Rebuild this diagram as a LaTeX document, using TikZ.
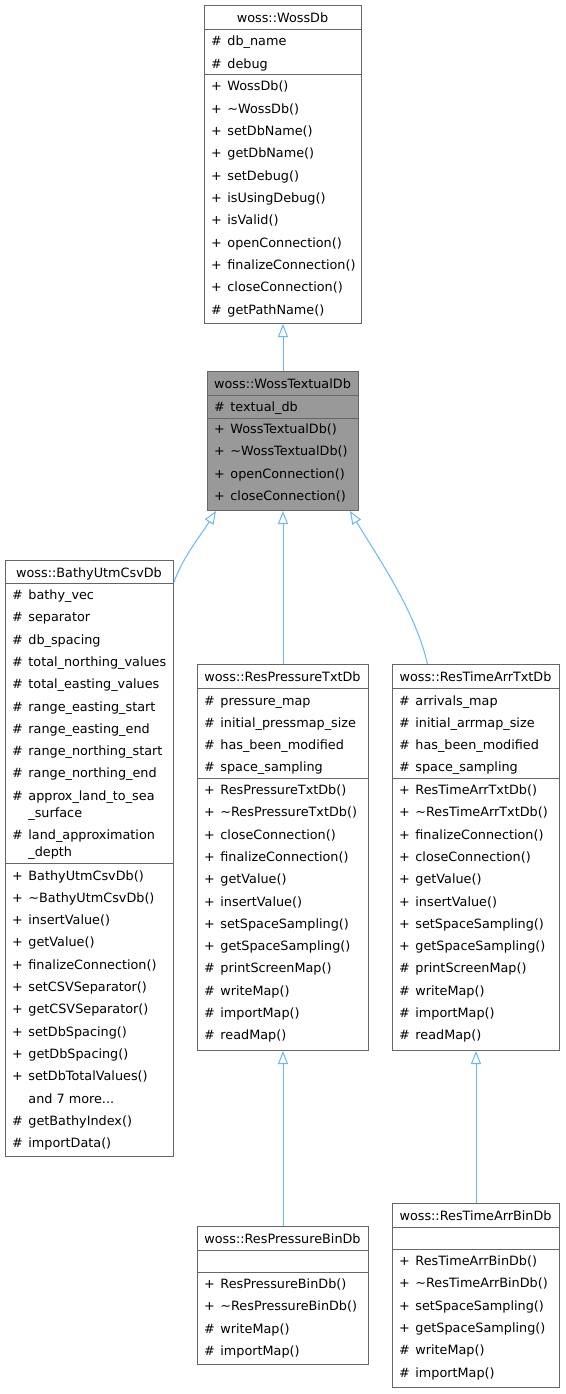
\documentclass[tikz,border=0pt]{standalone}
\usepackage{fontspec}
\setmainfont{DejaVu Sans}
\usetikzlibrary{arrows.meta,positioning}
\definecolor{edgeblue}{HTML}{63B8FF}
\definecolor{boxline}{HTML}{666666}
\definecolor{focus}{HTML}{999999}
\tikzstyle{every class} = []
\tikzstyle{class} = [rectangle, draw=boxline, line width=1pt, inner sep=0pt, anchor=north west, every class]
\tikzstyle{title} = [inner sep=0pt, text height=9.5pt, text depth=2.5pt, yshift=-1.5pt]
\tikzstyle{member} = [anchor=west, inner sep=0pt, text height=9.5pt, text depth=2.5pt, yshift=-1.5pt]
\tikzstyle{sep} = [draw=boxline, line width=1pt]
\tikzstyle{inherit} = [draw=edgeblue, line width=1pt, -{Triangle[open, length=13pt, width=10pt]}]
\newcommand{\pubm}{+\hspace{5.5pt}}
\newcommand{\protm}{\#\hspace{5.5pt}}
% one row of members every 22.3 units
\newcommand{\memberrows}[4]{%
  \foreach \entry [count=\k from 0] in {#4}
    \node[member] (#1-\k) at (#2,#3+22.3*\k) {\entry};}

\begin{document}
\begin{tikzpicture}[x=1pt, y=-1pt, font=\fontsize{12.8}{15}\selectfont]
  \useasboundingbox (0,0) rectangle (565,1394);

  % woss::WossDb
  \node[class, minimum width=157pt, minimum height=318pt] (wossdb) at (204,5) {};
  \node[title] (wossdb-t) at (282.5,17.5) {woss::WossDb};
  \draw[sep] (204,29.5) -- (361,29.5);
  \draw[sep] (204,75) -- (361,75);
  \memberrows{wossdb-a}{211}{41}{{\protm db\_name},{\protm debug}}
  \memberrows{wossdb-o}{211}{86}{{\pubm WossDb()},{\pubm\textasciitilde WossDb()},{\pubm setDbName()},{\pubm getDbName()},{\pubm setDebug()},{\pubm isUsingDebug()},{\pubm isValid()},{\pubm openConnection()},{\pubm finalizeConnection()},{\pubm closeConnection()},{\protm getPathName()}}

  % woss::WossTextualDb
  \node[class, fill=focus, minimum width=151pt, minimum height=139pt] (textual) at (207,371) {};
  \node[title] (textual-t) at (282.5,383) {woss::WossTextualDb};
  \draw[sep] (207,395) -- (358,395);
  \draw[sep] (207,418) -- (358,418);
  \memberrows{textual-a}{214}{406.5}{{\protm textual\_db}}
  \memberrows{textual-o}{214}{428.5}{{\pubm WossTextualDb()},{\pubm\textasciitilde WossTextualDb()},{\pubm openConnection()},{\pubm closeConnection()}}

  % woss::BathyUtmCsvDb
  \node[class, minimum width=168pt, minimum height=596pt] (bathy) at (5,560) {};
  \node[title] (bathy-t) at (89,572) {woss::BathyUtmCsvDb};
  \draw[sep] (5,583) -- (173,583);
  \draw[sep] (5,863) -- (173,863);
  \memberrows{bathy-a}{12}{594.5}{{\protm bathy\_vec},{\protm separator},{\protm db\_spacing},{\protm total\_northing\_values},{\protm total\_easting\_values},{\protm range\_easting\_start},{\protm range\_easting\_end},{\protm range\_northing\_start},{\protm range\_northing\_end},{\protm approx\_land\_to\_sea}}
  \node[member] (bathy-a-9b) at (12,812) {\phantom{\protm}\_surface};
  \node[member] (bathy-a-10) at (12,834.5) {\protm land\_approximation};
  \node[member] (bathy-a-10b) at (12,851.5) {\phantom{\protm}\_depth};
  \memberrows{bathy-o}{12}{875}{{\pubm BathyUtmCsvDb()},{\pubm\textasciitilde BathyUtmCsvDb()},{\pubm insertValue()},{\pubm getValue()},{\pubm finalizeConnection()},{\pubm setCSVSeparator()},{\pubm getCSVSeparator()},{\pubm setDbSpacing()},{\pubm getDbSpacing()},{\pubm setDbTotalValues()},{\phantom{\pubm}and 7 more.{}.{}.},{\protm getBathyIndex()},{\protm importData()}}

  % woss::ResPressureTxtDb
  \node[class, minimum width=171pt, minimum height=386pt] (prestxt) at (197,664) {};
  \node[title] (prestxt-t) at (282.5,676) {woss::ResPressureTxtDb};
  \draw[sep] (197,688) -- (368,688);
  \draw[sep] (197,778) -- (368,778);
  \memberrows{prestxt-a}{204}{700}{{\protm pressure\_map},{\protm initial\_pressmap\_size},{\protm has\_been\_modified},{\protm space\_sampling}}
  \memberrows{prestxt-o}{204}{789.5}{{\pubm ResPressureTxtDb()},{\pubm\textasciitilde ResPressureTxtDb()},{\pubm closeConnection()},{\pubm finalizeConnection()},{\pubm getValue()},{\pubm insertValue()},{\pubm setSpaceSampling()},{\pubm getSpaceSampling()},{\protm printScreenMap()},{\protm writeMap()},{\protm importMap()},{\protm readMap()}}

  % woss::ResTimeArrTxtDb
  \node[class, minimum width=167pt, minimum height=386pt] (arrtxt) at (392,664) {};
  \node[title] (arrtxt-t) at (475.5,676) {woss::ResTimeArrTxtDb};
  \draw[sep] (392,688) -- (559,688);
  \draw[sep] (392,778) -- (559,778);
  \memberrows{arrtxt-a}{399}{700}{{\protm arrivals\_map},{\protm initial\_arrmap\_size},{\protm has\_been\_modified},{\protm space\_sampling}}
  \memberrows{arrtxt-o}{399}{789.5}{{\pubm ResTimeArrTxtDb()},{\pubm\textasciitilde ResTimeArrTxtDb()},{\pubm finalizeConnection()},{\pubm closeConnection()},{\pubm getValue()},{\pubm insertValue()},{\pubm setSpaceSampling()},{\pubm getSpaceSampling()},{\protm printScreenMap()},{\protm writeMap()},{\protm importMap()},{\protm readMap()}}

  % woss::ResPressureBinDb
  \node[class, minimum width=171pt, minimum height=138pt] (presbin) at (197,1226) {};
  \node[title] (presbin-t) at (282.5,1238) {woss::ResPressureBinDb};
  \draw[sep] (197,1250) -- (368,1250);
  \draw[sep] (197,1272) -- (368,1272);
  \memberrows{presbin-o}{204}{1283.5}{{\pubm ResPressureBinDb()},{\pubm\textasciitilde ResPressureBinDb()},{\protm writeMap()},{\protm importMap()}}

  % woss::ResTimeArrBinDb
  \node[class, minimum width=167pt, minimum height=184pt] (arrbin) at (392,1203) {};
  \node[title] (arrbin-t) at (475.5,1215) {woss::ResTimeArrBinDb};
  \draw[sep] (392,1227) -- (559,1227);
  \draw[sep] (392,1249) -- (559,1249);
  \memberrows{arrbin-o}{399}{1260.5}{{\pubm ResTimeArrBinDb()},{\pubm\textasciitilde ResTimeArrBinDb()},{\pubm setSpaceSampling()},{\pubm getSpaceSampling()},{\protm writeMap()},{\protm importMap()}}

  % inheritance
  \coordinate (bathy-in) at ([yshift=-22pt]bathy.north east);
  \coordinate (arrtxt-in) at ([xshift=-48.5pt]arrtxt.north);
  \draw[inherit] (textual.north) -- (wossdb.south);
  \draw[inherit] (bathy-in) .. controls +(9.6,-26.3) and +(-14.8,23.8) .. ([xshift=9pt]textual.south west);
  \draw[inherit] (prestxt.north) -- (prestxt.north |- textual.south);
  \draw[inherit] (arrtxt-in) .. controls +(-12.4,-53.6) and +(28.3,47.1) .. ([xshift=-9pt]textual.south east);
  \draw[inherit] (presbin.north) -- (prestxt.south);
  \draw[inherit] (arrbin.north) -- (arrtxt.south);
\end{tikzpicture}
\end{document}
